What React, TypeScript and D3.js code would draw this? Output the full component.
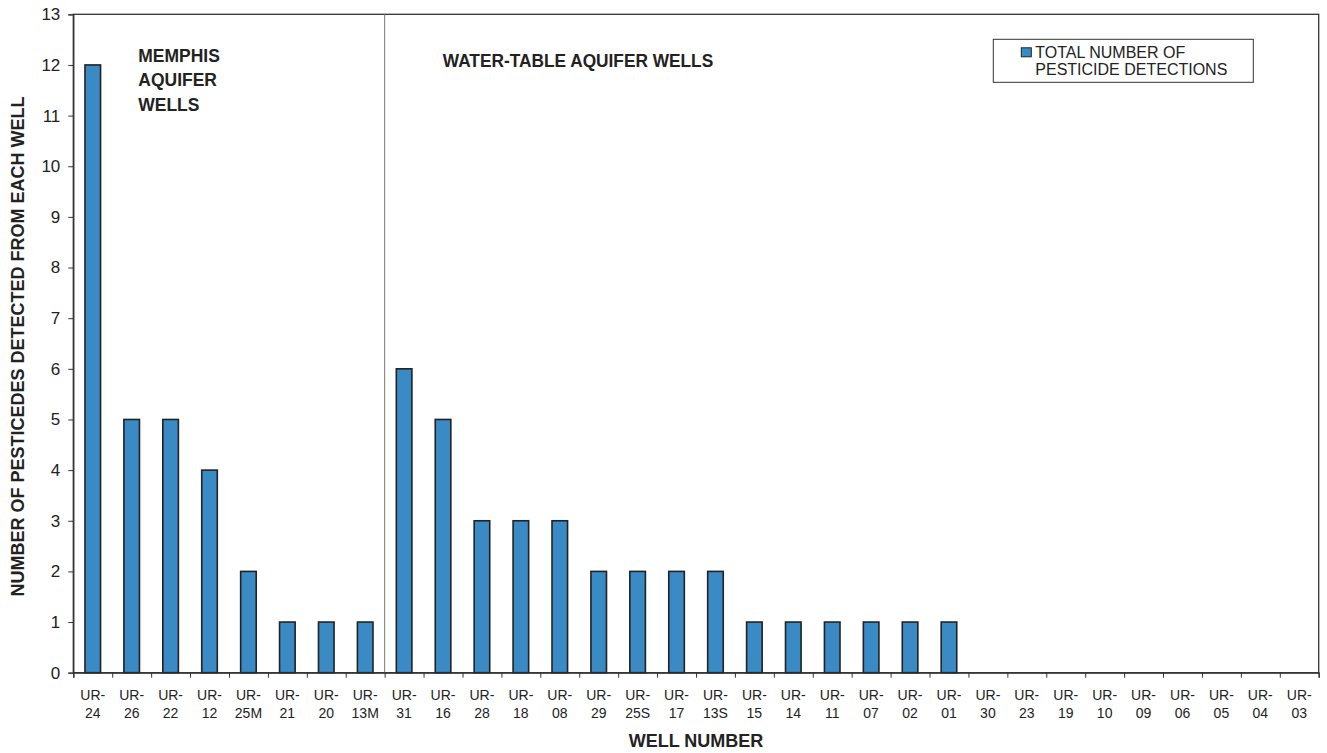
import { useEffect, useRef } from 'react'
import * as d3 from 'd3'

const wells = [
  'UR-24', 'UR-26', 'UR-22', 'UR-12', 'UR-25M', 'UR-21', 'UR-20', 'UR-13M',
  'UR-31', 'UR-16', 'UR-28', 'UR-18', 'UR-08', 'UR-29', 'UR-25S', 'UR-17',
  'UR-13S', 'UR-15', 'UR-14', 'UR-11', 'UR-07', 'UR-02', 'UR-01', 'UR-30',
  'UR-23', 'UR-19', 'UR-10', 'UR-09', 'UR-06', 'UR-05', 'UR-04', 'UR-03',
]
const detections = [
  12, 5, 5, 4, 2, 1, 1, 1,
  6, 5, 3, 3, 3, 2, 2, 2,
  2, 1, 1, 1, 1, 1, 1, 0,
  0, 0, 0, 0, 0, 0, 0, 0,
]
const yTicks = [0, 1, 2, 3, 4, 5, 6, 7, 8, 9, 10, 11, 12, 13]
const memphisCount = 8
const memphisLabel = ['MEMPHIS', 'AQUIFER', 'WELLS']
const waterTableLabel = 'WATER-TABLE AQUIFER WELLS'
const legendLines = ['TOTAL NUMBER OF', 'PESTICIDE DETECTIONS']

const W = 1327
const H = 753
const FONT = '"Liberation Sans", Arial, sans-serif'

export default function App() {
  const svgRef = useRef<SVGSVGElement>(null)

  useEffect(() => {
    if (!svgRef.current) return
    const root = d3.select(svgRef.current)
    root.selectAll('*').remove()

    const margin = { top: 14.3, right: 8.3, bottom: 80.3, left: 73.3 }
    const width = W - margin.left - margin.right
    const height = H - margin.top - margin.bottom

    const svg = root
      .append('g')
      .attr('transform', `translate(${margin.left},${margin.top})`)

    const x = d3.scaleBand().domain(wells).range([0, width]).paddingInner(0.6).paddingOuter(0.3)
    const xTickScale = d3.scaleLinear().domain([0, wells.length]).range([0, width])
    const y = d3.scaleLinear().domain([0, 13]).range([height, 0])

    // Cadre
    svg
      .append('rect')
      .attr('width', width)
      .attr('height', height)
      .attr('fill', 'none')
      .attr('stroke', '#333')
      .attr('stroke-width', 1.3)

    // Séparateur Memphis / nappe
    svg
      .append('line')
      .attr('x1', xTickScale(memphisCount))
      .attr('x2', xTickScale(memphisCount))
      .attr('y1', 0)
      .attr('y2', height)
      .attr('stroke', '#777')
      .attr('stroke-width', 1)

    // Barres
    svg
      .selectAll('rect.bar')
      .data(wells)
      .join('rect')
      .attr('class', 'bar')
      .attr('x', (d) => x(d) ?? 0)
      .attr('width', x.bandwidth())
      .attr('y', (_, i) => y(detections[i]))
      .attr('height', (_, i) => y(0) - y(detections[i]))
      .attr('fill', '#3a8ac6')
      .attr('stroke', '#222')
      .attr('stroke-width', 1.6)
      .style('display', (_, i) => (detections[i] > 0 ? null : 'none'))

    // Axe Y
    svg
      .append('g')
      .call(d3.axisLeft(y).tickValues(yTicks).tickSize(5).tickPadding(8).tickFormat(d3.format('d')))
      .call((g) => g.select('.domain').attr('stroke', '#333').attr('stroke-width', 1.3))
      .call((g) => g.selectAll('.tick line').attr('stroke', '#333'))
      .call((g) =>
        g.selectAll('.tick text').attr('fill', '#222').attr('font-size', '17px').attr('font-family', FONT)
      )

    // Axe X : graduations entre catégories
    svg
      .append('g')
      .attr('transform', `translate(0,${height})`)
      .call(
        d3
          .axisBottom(xTickScale)
          .tickValues(d3.range(0, wells.length + 1))
          .tickSize(5)
          .tickFormat(() => '')
      )
      .call((g) => g.select('.domain').attr('stroke', '#333').attr('stroke-width', 1.3))
      .call((g) => g.selectAll('.tick line').attr('stroke', '#333'))

    // Libellés des puits sur deux lignes
    const labels = svg
      .append('g')
      .attr('font-family', FONT)
      .attr('font-size', '14px')
      .attr('fill', '#222')
      .attr('text-anchor', 'middle')
      .selectAll('text')
      .data(wells)
      .join('text')
      .attr('x', (d) => (x(d) ?? 0) + x.bandwidth() / 2)
      .attr('y', height + 27)
    labels
      .append('tspan')
      .attr('x', (d) => (x(d) ?? 0) + x.bandwidth() / 2)
      .text('UR-')
    labels
      .append('tspan')
      .attr('x', (d) => (x(d) ?? 0) + x.bandwidth() / 2)
      .attr('dy', 18)
      .text((d) => d.replace('UR-', ''))

    // Titres des axes
    svg
      .append('text')
      .attr('x', width / 2)
      .attr('y', height + 74)
      .attr('text-anchor', 'middle')
      .attr('font-family', FONT)
      .attr('font-weight', 'bold')
      .attr('font-size', '18px')
      .attr('fill', '#222')
      .text('WELL NUMBER')

    svg
      .append('text')
      .attr('transform', 'rotate(-90)')
      .attr('x', -height / 2 - 3)
      .attr('y', -49)
      .attr('text-anchor', 'middle')
      .attr('font-family', FONT)
      .attr('font-weight', 'bold')
      .attr('font-size', '18px')
      .attr('fill', '#222')
      .text('NUMBER OF PESTICEDES DETECTED FROM EACH WELL')

    // Annotations (police bold un peu condensée)
    svg
      .append('g')
      .attr('transform', 'translate(65,0) scale(0.92,1)')
      .append('text')
      .attr('font-family', FONT)
      .attr('font-weight', 'bold')
      .attr('font-size', '19px')
      .attr('fill', '#222')
      .selectAll('tspan')
      .data(memphisLabel)
      .join('tspan')
      .attr('x', 0)
      .attr('y', (_, i) => 47.5 + i * 24.5)
      .text((d) => d)

    svg
      .append('g')
      .attr('transform', 'translate(369.5,52.5) scale(0.91,1)')
      .append('text')
      .attr('font-family', FONT)
      .attr('font-weight', 'bold')
      .attr('font-size', '19px')
      .attr('fill', '#222')
      .text(waterTableLabel)

    // Légende
    const legend = svg.append('g').attr('transform', `translate(${993.3 - margin.left},${39.3 - margin.top})`)
    legend
      .append('rect')
      .attr('width', 260)
      .attr('height', 43)
      .attr('fill', 'white')
      .attr('stroke', '#333')
      .attr('stroke-width', 1)
    legend
      .append('rect')
      .attr('x', 28)
      .attr('y', 8.5)
      .attr('width', 10)
      .attr('height', 9)
      .attr('fill', '#3a8ac6')
      .attr('stroke', '#222')
      .attr('stroke-width', 1)
    legend
      .append('text')
      .attr('font-family', FONT)
      .attr('font-size', '16px')
      .attr('fill', '#222')
      .selectAll('tspan')
      .data(legendLines)
      .join('tspan')
      .attr('x', 42)
      .attr('y', (_, i) => 18.5 + i * 17.3)
      .text((d) => d)
  }, [])

  return (
    <svg
      ref={svgRef}
      width={W}
      height={H}
      style={{ position: 'absolute', left: 0, top: 0, display: 'block', background: 'white' }}
    />
  )
}
